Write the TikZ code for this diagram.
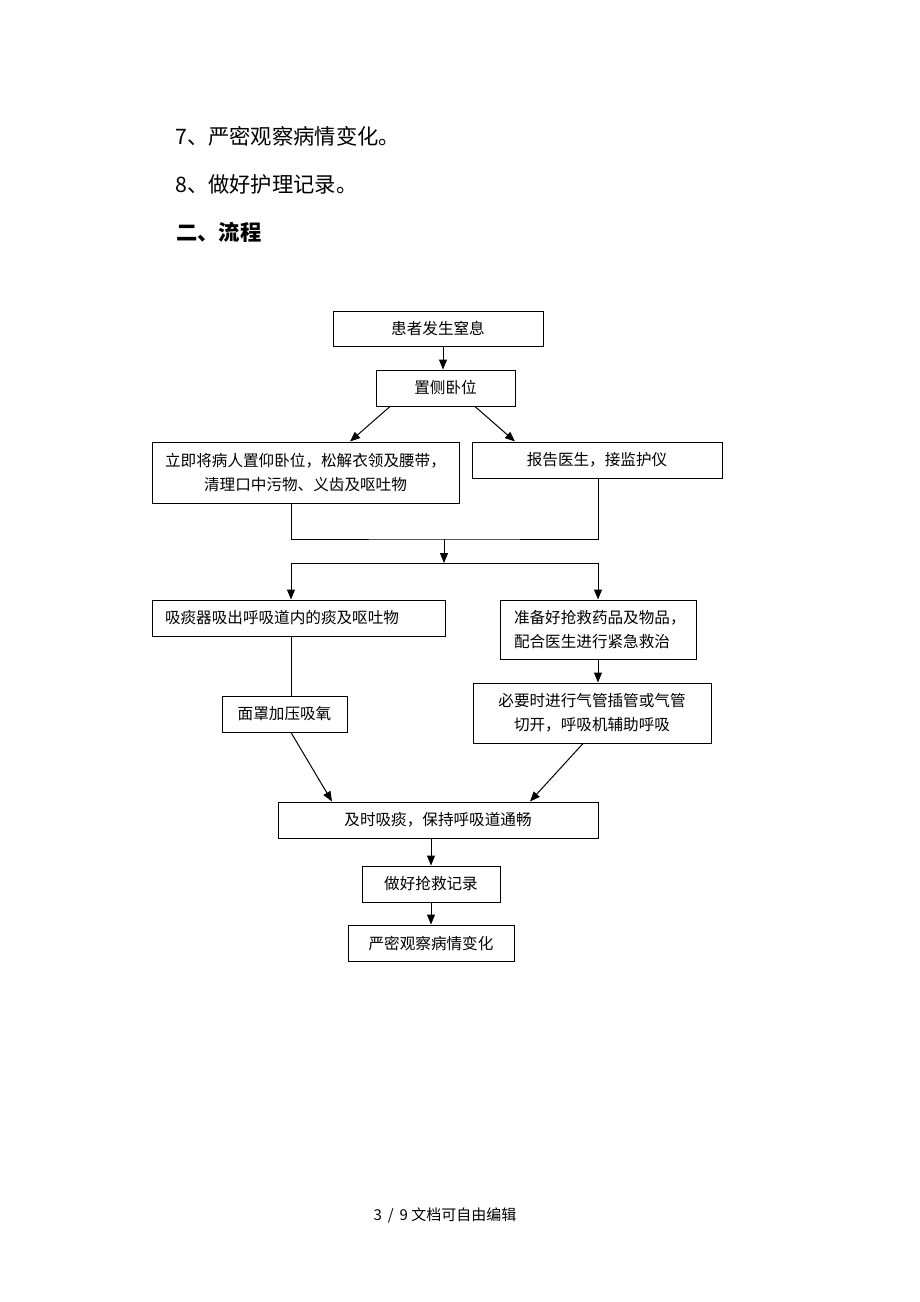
\documentclass[tikz,border=0pt]{standalone}
\usepackage{fontspec}
\setmainfont{Noto Sans CJK SC}
\usetikzlibrary{arrows.meta}
\tikzset{
  box/.style={draw=black, line width=1pt, inner sep=0pt, align=center, font=\fontsize{15.6}{24}\selectfont},
  conn/.style={line width=1pt},
  arr/.style={conn, -{Triangle[length=10pt,width=8pt]}},
  head/.style={anchor=west, inner sep=0pt, font=\fontsize{21.3}{24}\selectfont},
}
\begin{document}
\begin{tikzpicture}[x=1pt,y=-1pt]
\fill[white] (0,0) rectangle (920,1302);
\useasboundingbox (0,0) rectangle (920,1302);

\node[head] (h7) at (175,136) {7、严密观察病情变化。};
\node[head] (h8) at (175,184) {8、做好护理记录。};
\node[head, font=\fontsize{21.3}{24}\selectfont\bfseries] (h2) at (176,232) {二、流程};

\node[box, minimum width=210pt, minimum height=35pt] (b1) at (438,328.5) {患者发生窒息};
\node[box, minimum width=139pt, minimum height=36pt] (b2) at (445.5,388) {置侧卧位};
\node[box, minimum width=307pt, minimum height=61pt] (b3) at (305.5,472.5) {立即将病人置仰卧位，松解衣领及腰带，\\清理口中污物、义齿及呕吐物};
\node[box, minimum width=250pt, minimum height=36pt] (b4) at (597,460) {报告医生，接监护仪};
\node[box, minimum width=293pt, minimum height=36pt, text width=267pt, align=left] (b5) at (298.5,618) {吸痰器吸出呼吸道内的痰及呕吐物};
\node[box, minimum width=196pt, minimum height=59pt, text width=168pt, align=left] (b6) at (598,629.5) {准备好抢救药品及物品，\\配合医生进行紧急救治};
\node[box, minimum width=125pt, minimum height=36pt] (b7) at (284.5,714) {面罩加压吸氧};
\node[box, minimum width=238pt, minimum height=60pt] (b8) at (592,713) {必要时进行气管插管或气管\\切开，呼吸机辅助呼吸};
\node[box, minimum width=320pt, minimum height=36pt] (b9) at (438,820) {及时吸痰，保持呼吸道通畅};
\node[box, minimum width=138pt, minimum height=36pt] (b10) at (431,884) {做好抢救记录};
\node[box, minimum width=166pt, minimum height=36pt] (b11) at (431,943) {严密观察病情变化};

\node[inner sep=0pt, font=\fontsize{15}{16}\selectfont] (foot) at (445,1215) {3 \,/\, 9 文档可自由编辑};

\coordinate (m) at (444,539);
\coordinate (s) at (444,563);

\draw[arr] ([xshift=5pt]b1.south) -- ([xshift=-2.5pt]b2.north);
\draw[arr] ([xshift=-55.5pt]b2.south) -- ([xshift=44.5pt]b3.north);
\draw[arr] ([xshift=29.5pt]b2.south) -- ([xshift=-82pt]b4.north);
\draw[conn] ([xshift=-14.5pt]b3.south) |- (m) -| ([xshift=1pt]b4.south);
\draw[arr] (m) -- (s);
\draw[arr] (s) -| ([xshift=-7.5pt]b5.north);
\draw[arr] (s) -| (b6.north);
\draw[conn] ([xshift=-7.5pt]b5.south) -- ([xshift=6.5pt]b7.north);
\draw[arr] (b6.south) -- (b6.south |- b8.north);
\draw[arr] ([xshift=6.5pt]b7.south) -- ([xshift=-106pt]b9.north);
\draw[arr] ([xshift=-9pt]b8.south) -- ([xshift=92pt]b9.north);
\draw[arr] ([xshift=-7pt]b9.south) -- (b10.north);
\draw[arr] (b10.south) -- (b11.north);
\end{tikzpicture}
\end{document}
